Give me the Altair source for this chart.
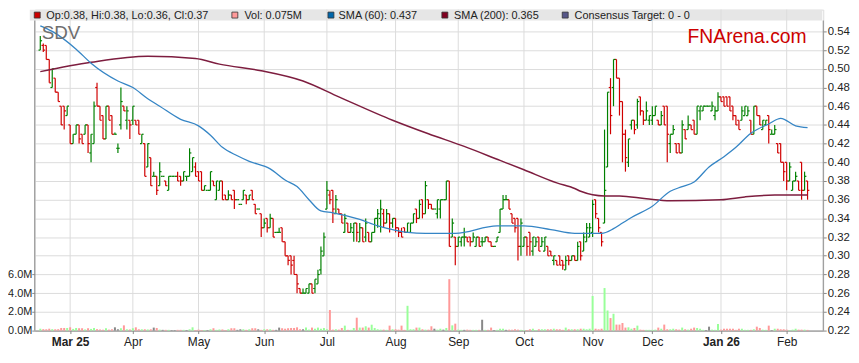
import altair as alt
import pandas as pd

# ---------------- data ----------------
opens = [
    .52, .525, .525, .51, .48, .49, .475, .46, .46, .45,
    .44, .42, .43, .44, .43, .43, .44, .41, .42, .48,
    .46, .45, .425, .46, .45, .43, .415, .44, .46, .445,
    .445, .445, .445, .445, .42, .42, .395, .405, .385, .385,
    .375, .385, .38, .37, .385, .385, .385, .385, .38, .385,
    .385, .39, .395, .39, .39, .37, .37, .37, .38, .36,
    .37, .38, .365, .36, .365, .37, .36, .355, .36, .365,
    .36, .37, .355, .35, .345, .33, .34, .33, .34, .325,
    .325, .33, .315, .30, .30, .295, .28, .265, .26, .26,
    .26, .27, .265, .27, .285, .30, .35, .365, .37, .345,
    .35, .345, .325, .335, .325, .325, .335, .315, .33, .32,
    .325, .315, .325, .34, .34, .345, .335, .345, .335, .34,
    .33, .325, .33, .325, .325, .335, .35, .34, .36, .345,
    .36, .355, .35, .345, .35, .36, .36, .38, .32, .32,
    .31, .315, .32, .32, .32, .315, .31, .32, .315, .315,
    .32, .315, .31, .315, .325, .35, .36, .36, .345, .34,
    .34, .31, .31, .32, .325, .305, .31, .32, .31, .305,
    .31, .305, .295, .295, .30, .295, .285, .30, .295, .30,
    .295, .315, .305, .315, .32, .325, .36, .34, .325, .335,
    .395, .48, .48, .51, .49, .465, .43, .40, .44, .445,
    .44, .47, .455, .445, .445, .445, .45, .445, .44, .46,
    .46, .42, .43, .42, .42, .41, .435, .435, .44, .445,
    .43, .455, .455, .46, .46, .455, .45, .455, .47, .47,
    .47, .47, .46, .45, .445, .445, .45, .45, .445, .43,
    .46, .45, .435, .44, .45, .43, .43, .42, .42, .40,
    .40, .38, .37, .38, .38, .40, .37, .38,
]
highs = [
    .535, .527, .525, .51, .50, .49, .475, .46, .46, .46,
    .44, .43, .44, .44, .43, .44, .44, .43, .465, .485,
    .46, .45, .46, .46, .45, .432, .42, .48, .46, .46,
    .445, .46, .445, .445, .43, .42, .42, .405, .39, .385,
    .40, .385, .38, .385, .385, .385, .39, .385, .39, .385,
    .415, .405, .40, .39, .39, .375, .37, .39, .38, .38,
    .38, .38, .365, .37, .365, .37, .36, .355, .37, .365,
    .365, .37, .355, .35, .345, .34, .34, .345, .34, .325,
    .33, .33, .315, .30, .30, .30, .28, .265, .265, .265,
    .27, .27, .275, .285, .31, .325, .38, .37, .37, .365,
    .35, .345, .345, .335, .335, .335, .335, .335, .33, .34,
    .325, .325, .34, .35, .36, .35, .35, .345, .34, .34,
    .33, .33, .33, .335, .335, .345, .35, .36, .36, .38,
    .36, .355, .35, .36, .36, .36, .38, .38, .34, .32,
    .32, .32, .33, .32, .32, .325, .32, .32, .32, .32,
    .32, .315, .31, .32, .35, .365, .365, .36, .345, .34,
    .34, .34, .32, .32, .325, .32, .32, .32, .32, .32,
    .31, .305, .30, .295, .30, .295, .30, .30, .30, .30,
    .315, .315, .325, .335, .335, .36, .36, .34, .325, .435,
    .475, .49, .51, .51, .49, .465, .435, .425, .445, .445,
    .468, .47, .455, .465, .45, .46, .46, .445, .455, .46,
    .46, .43, .44, .42, .42, .445, .435, .45, .44, .445,
    .46, .46, .46, .46, .46, .465, .46, .475, .47, .47,
    .47, .47, .46, .45, .445, .46, .46, .46, .445, .46,
    .46, .45, .445, .445, .45, .435, .44, .42, .42, .40,
    .40, .40, .38, .39, .38, .40, .39, .38,
]
lows = [
    .52, .518, .51, .485, .48, .475, .465, .44, .435, .45,
    .42, .42, .43, .42, .42, .43, .41, .40, .42, .46,
    .445, .425, .425, .445, .43, .43, .41, .435, .455, .435,
    .425, .44, .44, .43, .42, .385, .395, .375, .385, .365,
    .375, .385, .375, .37, .385, .385, .38, .375, .38, .38,
    .385, .39, .385, .38, .37, .37, .37, .37, .375, .36,
    .37, .36, .36, .36, .36, .35, .36, .355, .36, .355,
    .36, .36, .345, .35, .32, .33, .325, .33, .32, .325,
    .325, .315, .30, .29, .28, .28, .26, .26, .26, .26,
    .26, .26, .26, .27, .28, .30, .35, .355, .335, .345,
    .345, .335, .325, .325, .325, .315, .315, .315, .315, .315,
    .315, .315, .325, .33, .325, .33, .335, .325, .33, .325,
    .32, .32, .325, .325, .325, .335, .335, .34, .34, .345,
    .35, .35, .35, .34, .34, .36, .36, .31, .32, .29,
    .31, .31, .31, .315, .31, .315, .31, .31, .31, .315,
    .315, .31, .31, .315, .325, .35, .36, .35, .335, .325,
    .295, .30, .31, .30, .30, .30, .31, .305, .31, .305,
    .30, .30, .29, .29, .29, .285, .285, .29, .295, .295,
    .295, .295, .305, .315, .32, .32, .34, .325, .31, .335,
    .395, .43, .46, .49, .45, .40, .39, .395, .435, .43,
    .436, .45, .44, .445, .44, .44, .45, .44, .44, .44,
    .40, .41, .43, .41, .41, .41, .425, .435, .435, .43,
    .43, .445, .455, .46, .46, .455, .445, .455, .465, .46,
    .46, .455, .445, .44, .435, .445, .45, .45, .43, .43,
    .45, .44, .435, .44, .42, .43, .43, .41, .40, .38,
    .37, .38, .37, .38, .37, .36, .37, .36,
]
closes = [
    .53, .52, .51, .485, .50, .475, .465, .44, .455, .46,
    .42, .43, .44, .425, .42, .44, .42, .43, .46, .46,
    .445, .425, .46, .445, .43, .43, .415, .465, .455, .455,
    .44, .46, .44, .43, .43, .385, .42, .375, .385, .37,
    .39, .385, .375, .385, .385, .385, .38, .38, .39, .385,
    .41, .405, .385, .38, .37, .375, .37, .39, .375, .38,
    .38, .36, .36, .365, .36, .36, .36, .355, .37, .36,
    .365, .36, .345, .35, .33, .335, .33, .34, .32, .325,
    .325, .315, .30, .295, .29, .28, .27, .26, .26, .265,
    .27, .26, .275, .28, .305, .32, .37, .36, .35, .36,
    .345, .335, .34, .325, .33, .335, .325, .33, .315, .335,
    .315, .325, .34, .345, .35, .335, .345, .335, .34, .33,
    .325, .32, .325, .335, .335, .345, .34, .355, .345, .375,
    .355, .35, .35, .36, .36, .36, .38, .31, .335, .31,
    .32, .32, .32, .315, .315, .32, .32, .31, .315, .32,
    .315, .31, .31, .32, .35, .36, .36, .35, .335, .33,
    .31, .335, .32, .31, .315, .32, .315, .305, .315, .32,
    .30, .30, .30, .29, .29, .29, .295, .295, .30, .295,
    .31, .30, .32, .33, .33, .355, .345, .33, .315, .37,
    .475, .45, .51, .49, .465, .43, .405, .425, .445, .435,
    .465, .455, .445, .455, .45, .45, .46, .44, .45, .44,
    .43, .43, .435, .41, .41, .44, .425, .44, .435, .43,
    .46, .46, .46, .46, .46, .46, .455, .47, .465, .46,
    .46, .455, .45, .44, .435, .455, .46, .455, .43, .46,
    .45, .44, .445, .445, .435, .43, .435, .41, .40, .39,
    .38, .395, .38, .385, .37, .37, .385, .37,
]
volumes_m = [
    .20, .15, .14, .20, .15, .14, .15, .28, .28, .28,
    .35, .18, .28, .25, .25, .12, .25, .18, .28, .15,
    .12, .10, .25, .10, .14, .35, .14, .25, .56, .14,
    .12, .25, .35, .14, .14, .14, .12, .14, .32, .28,
    .10, .08, .08, .08, .06, .06, .08, .08, .08, .06,
    .14, .35, .06, .10, .06, .06, .05, .14, .25, .08,
    .12, .12, .06, .14, .25, .25, .08, .14, .14, .08,
    .14, .25, .25, .14, .08, .14, .14, .14, .08, .08,
    .32, .25, .20, .25, .28, .28, .35, .14, .14, .32,
    .10, .32, .20, .32, .20, .28, .14, 2.2, .10, .14,
    .10, .28, .53, .08, .08, .28, 1.38, .32, .32, .46,
    .32, .63, .28, .14, .10, .10, .08, .53, .14, .14,
    .10, .53, .08, 2.65, .14, .14, .32, .32, .14, .10,
    .10, .46, .20, .10, .20, .10, .28, 5.5, .56, .74,
    .10, .08, .08, .10, .08, .08, .08, .08, 1.16, .08,
    .08, .32, .06, .08, .20, .20, .08, .10, .08, .14,
    .10, .08, .06, .06, .14, .20, .06, .14, .14, .14,
    .14, .14, .20, .14, .14, .08, .32, .14, .14, .14,
    .14, .20, .20, .14, .20, 3.7, .20, .14, .20, 4.55,
    2.15, 1.34, 1.8, .64, .64, .81, .32, .35, .20, .28,
    .53, .10, .08, .08, .08, .08, .10, .32, .20, .64,
    .14, .14, .20, .14, .10, .32, .14, .10, .20, .32,
    .28, .20, .08, .06, .42, .10, .08, .70, .10, .20,
    .20, .20, .20, .08, .20, .20, .08, .08, .08, .14,
    .42, .28, .10, .08, .53, .06, .20, .20, .14, .14,
    .10, .06, .10, .20, .10, .10, .10, .075,
]

sma60_idx = [0, 4, 12, 17, 26, 31, 36, 40, 47, 53, 57, 61, 66, 70, 77, 82, 86,
             90, 94, 98, 107, 113, 118, 123, 129, 139, 153, 162, 171, 179, 188,
             192, 195, 198, 205, 211, 215, 219, 224, 229, 233, 238, 244, 248,
             253, 257]
sma60_val = [.546, .540, .521, .506, .487, .480, .468, .460, .446, .439, .429,
             .416, .407, .401, .393, .381, .374, .360, .348, .346, .339, .332,
             .328, .325, .324, .324, .332, .332, .328, .324, .324, .329, .335,
             .341, .353, .369, .374, .379, .395, .406, .416, .431, .441, .447,
             .439, .437]
sma200_idx = [0, 17, 36, 52, 60, 74, 88, 100, 118, 130, 142, 154, 162, 173,
              179, 181, 189, 194, 203, 211, 228, 236, 246, 257]
sma200_val = [.497, .507, .5135, .511, .505, .498, .487, .470, .445, .4305,
              .417, .402, .392, .378, .372, .369, .364, .364, .361, .359, .360,
              .363, .365, .365]

month_idx = [10, 31, 53, 75, 96, 119, 140, 162, 185, 205, 228, 250]
month_lab = ['Mar 25', 'Apr', 'May', 'Jun', 'Jul', 'Aug', 'Sep', 'Oct', 'Nov',
             'Dec', 'Jan 26', 'Feb']
price_ticks = [0.22, 0.24, 0.26, 0.28, 0.30, 0.32, 0.34, 0.36, 0.38, 0.40,
               0.42, 0.44, 0.46, 0.48, 0.50, 0.52, 0.54]
vol_ticks = [0, 2, 4, 6]

legend_labels = ['Op:0.38, Hi:0.38, Lo:0.36, Cl:0.37', 'Vol: 0.075M',
                 'SMA (60): 0.437', 'SMA (200): 0.365', 'Consensus Target: 0 - 0']
legend_colors = ['#cc0000', '#ff9999', '#0066aa', '#800020', '#555588']

# ---------------- chart ----------------
N = len(opens)
df = pd.DataFrame({'i': list(range(N)), 'o': opens, 'h': highs, 'l': lows,
                   'c': closes, 'v': volumes_m})
sma60 = pd.DataFrame({'i': sma60_idx, 'p': sma60_val})
sma200 = pd.DataFrame({'i': sma200_idx, 'p': sma200_val})
months = pd.DataFrame({'m': month_idx})
one = pd.DataFrame({'k': [0]})

W, H = 796, 324
FONT = 'Liberation Sans'
GRID = '#dcdcdc'
AX = '#888888'
xs = alt.Scale(domain=[-0.2, 260.6], nice=False, zero=False)
ys = alt.Scale(domain=[0.22, 0.5633], nice=False, zero=False)
vs = alt.Scale(domain=[0, 34.33], nice=False, zero=False)

lab_expr = ("[" + ",".join(f"'{m}'" for m in month_lab) + "][indexof(["
            + ",".join(str(m) for m in month_idx) + "], datum.value)]")
bold_test = " || ".join(f"datum.value == {month_idx[k]}"
                        for k, m in enumerate(month_lab) if ' ' in m)

x_axis = alt.Axis(values=month_idx, labelExpr=lab_expr, grid=False,
                  domainColor=AX, tickColor=AX, tickSize=3, labelFontSize=12,
                  labelColor='#222222', labelPadding=3, title=None,
                  labelFont=FONT, labelOverlap=False, labelFlush=False,
                  labelFontWeight={'condition': {'test': bold_test, 'value': 'bold'},
                                   'value': 'normal'})
price_axis = alt.Axis(orient='right', values=price_ticks, format='.2f', grid=True,
                      gridColor=GRID, domain=False, tickColor=AX, tickSize=3,
                      labelPadding=1, labelFontSize=11.5, labelColor='#222222',
                      labelFont=FONT, title=None)

vol = alt.Chart(df).transform_calculate(
    vcol="datum.c > datum.o ? '#99ff99' : (datum.c < datum.o ? '#ff9999' : '#888888')"
).mark_bar(width=2).encode(
    x=alt.X('i:Q', scale=xs, axis=x_axis),
    y=alt.Y('v:Q', scale=vs, axis=alt.Axis(
        orient='left', values=vol_ticks, labelExpr="format(datum.value, '.1f') + 'M'",
        grid=False, domain=False, tickColor=AX, tickSize=3, labelPadding=0,
        labelFontSize=11, labelColor='#222222', labelFont=FONT, title=None)),
    color=alt.Color('vcol:N', scale=None),
)

base = alt.Chart(df).transform_calculate(
    pcol="datum.c >= datum.o ? '#008000' : '#d00000'",
    xo="datum.i - 0.6", xc="datum.i + 0.6",
)
hl = base.mark_rule(strokeWidth=1.2).encode(
    x=alt.X('i:Q', scale=xs, axis=x_axis),
    y=alt.Y('l:Q', scale=ys, axis=price_axis), y2='h:Q',
    color=alt.Color('pcol:N', scale=None))
op = base.mark_rule(strokeWidth=1.2).encode(
    x=alt.X('xo:Q', scale=xs, axis=x_axis), x2='i:Q',
    y=alt.Y('o:Q', scale=ys, axis=price_axis), color=alt.Color('pcol:N', scale=None))
cl = base.mark_rule(strokeWidth=1.2).encode(
    x=alt.X('i:Q', scale=xs, axis=x_axis), x2='xc:Q',
    y=alt.Y('c:Q', scale=ys, axis=price_axis), color=alt.Color('pcol:N', scale=None))
l200 = alt.Chart(sma200).mark_line(color='#7d1d3f', strokeWidth=1.5,
                                   interpolate='monotone').encode(
    x=alt.X('i:Q', scale=xs, axis=x_axis), y=alt.Y('p:Q', scale=ys, axis=price_axis))
l60 = alt.Chart(sma60).mark_line(color='#3585c5', strokeWidth=1.3,
                                 interpolate='monotone').encode(
    x=alt.X('i:Q', scale=xs, axis=x_axis), y=alt.Y('p:Q', scale=ys, axis=price_axis))
price = alt.layer(hl, op, cl, l200, l60)

bar_bg = alt.Chart(one).mark_rect(color='#e6e6e6').encode(
    x=alt.value(-5), x2=alt.value(795), y=alt.value(0), y2=alt.value(11))
vgrid = alt.Chart(months).mark_rule(color=GRID).encode(
    x=alt.X('m:Q', scale=xs, axis=x_axis), y=alt.value(0), y2=alt.value(H))
frame_l = alt.Chart(one).mark_rule(color=AX).encode(
    x=alt.value(0), y=alt.value(11), y2=alt.value(H))
frame_r = alt.Chart(one).mark_rule(color=AX).encode(
    x=alt.value(W), y=alt.value(11), y2=alt.value(H))
sdv = alt.Chart(one).mark_text(text='SDV', align='left', baseline='alphabetic',
                               fontSize=19, font=FONT, color='#6e6e6e').encode(
    x=alt.value(7), y=alt.value(29.5))
fna = alt.Chart(one).mark_text(text='FNArena.com', align='left', baseline='alphabetic',
                               fontSize=19.5, font=FONT, color='#cc0000').encode(
    x=alt.value(659), y=alt.value(33.5))

leg_sq_x = [2.5, 202, 299, 414, 535.5]
leg_tx_x = [11.7, 211.7, 306.7, 423.3, 545]
legend_layers = []
for k in range(len(legend_labels)):
    legend_layers.append(alt.Chart(one).mark_square(
        size=36, fill=legend_colors[k], stroke='#333333', strokeWidth=0.8,
        opacity=1).encode(x=alt.value(leg_sq_x[k]), y=alt.value(5.5)))
    legend_layers.append(alt.Chart(one).mark_text(
        text=legend_labels[k], align='left', baseline='middle', fontSize=11,
        font=FONT, color='#222222').encode(x=alt.value(leg_tx_x[k]), y=alt.value(6)))

chart = alt.layer(
    bar_bg, vgrid, vol, price, frame_l, frame_r, sdv, fna, *legend_layers
).resolve_scale(y='independent').properties(
    width=W, height=H,
    padding={'left': 27, 'top': 0, 'right': 28, 'bottom': 23},
    autosize=alt.AutoSizeParams(type='none'),
).configure_view(stroke=None).configure(font=FONT)

chart.save("out.html", embed_options={"renderer": "svg", "actions": False})
